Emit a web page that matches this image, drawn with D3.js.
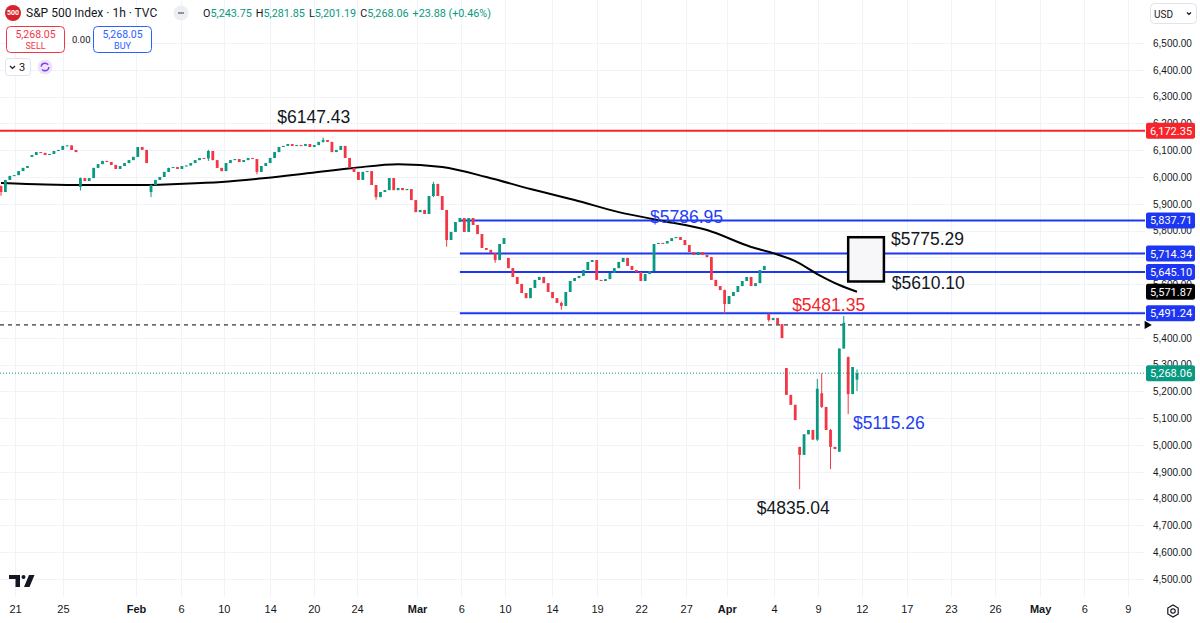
<!DOCTYPE html>
<html>
<head>
<meta charset="utf-8">
<script src="https://cdn.jsdelivr.net/npm/d3@7"></script>
<style>
  html, body { margin: 0; padding: 0; background: #fff; }
  svg { display: block; font-family: Roboto, "Liberation Sans", sans-serif; }
  .axis text { fill: #131722; font-size: 11px; }
  .price_axis text { font-size: 10px; }
  .axis .domain, .axis line { display: none; }
</style>
</head>
<body>
<div id="chart_area"></div>
<script>
// hourly closes (one candle ~ two hourly bars)
var closes = [
  5944, 5989, 6004, 6007, 6022, 6034, 6041, 6082, 6093, 6090,
  6082, 6086, 6097, 6101, 6116, 6118, 6101, 6093, 5996, 5985,
  5996, 6034, 6048, 6060, 6056, 6045, 6030, 6041, 6052, 6063,
  6075, 6112, 6101, 6052, 5970, 5989, 6000, 6019, 6034, 6037,
  6030, 6041, 6043, 6052, 6063, 6071, 6069, 6097, 6063, 6034,
  6022, 6052, 6063, 6067, 6056, 6063, 6071, 6067, 6019, 6041,
  6052, 6071, 6093, 6112, 6116, 6123, 6116, 6119, 6116, 6123,
  6112, 6119, 6131, 6138, 6131, 6093, 6101, 6116, 6071, 6034,
  6019, 5989, 6019, 6022, 5970, 5925, 5944, 5951, 5996, 5951,
  5959, 5951, 5955, 5914, 5869, 5877, 5862, 5929, 5974, 5929,
  5877, 5765, 5795, 5832, 5847, 5795, 5847, 5821, 5787, 5735,
  5728, 5716, 5690, 5750, 5772, 5660, 5627, 5601, 5567, 5548,
  5586, 5616, 5627, 5604, 5571, 5548, 5530, 5519, 5571, 5612,
  5623, 5631, 5653, 5683, 5690, 5616, 5612, 5619, 5642, 5660,
  5683, 5698, 5668, 5653, 5645, 5612, 5638, 5649, 5750, 5754,
  5752, 5761, 5772, 5776, 5765, 5746, 5720, 5709, 5720, 5709,
  5701, 5616, 5593, 5578, 5526, 5556, 5571, 5593, 5612, 5627,
  5593, 5604, 5653, 5668, 5466, 5474, 5451, 5399, 5187, 5150,
  5093, 4963, 5040, 5056, 5020, 5210, 5142, 5056, 4993, 4985,
  5360, 5456, 5190, 5291, 5268.06
];

// session opens where the bar does not open at the previous close: [index, open]
var gapOpens = [
  [0, 5966], [7, 6075], [18, 5963], [34, 5944], [115, 5698], [174, 5489],
  [178, 5287], [181, 4993], [186, 5193], [190, 4975], [192, 5328], [194, 5243.75]
];

// visible wicks: [index, high, low]
var wicks = [
  [0, 5968, 5930], [18, 5998, 5950], [34, 5972, 5925], [47, 6101, 6060],
  [58, 6067, 6010], [73, 6147.43, 6128], [85, 5951, 5915], [98, 5982, 5925],
  [101, 5877, 5740], [112, 5716, 5680], [127, 5535, 5504.65], [164, 5580, 5488.73],
  [174, 5491, 5460], [181, 4993, 4835.04], [185, 5246.57, 5015], [186, 5267.47, 5138],
  [188, 5060, 4910.42], [191, 5481.34, 5440], [192, 5330, 5115.26], [194, 5281.85, 5201.19]
];

// moving average read at these bars
var maIdx = [0, 10, 20, 30, 40, 50, 60, 70, 80, 90, 100, 110, 120, 130, 140, 150, 160, 170, 175, 180, 185, 190, 194];
var maVals = [5978, 5972, 5970, 5970, 5974, 5981, 5996, 6015, 6034, 6048, 6037, 6000, 5955, 5914, 5869, 5836, 5802, 5739, 5716, 5686, 5638, 5597, 5571.87];

// horizontal levels
var redLevel = 6172.35;
var blueLevels = [5837.71, 5714.34, 5645.10, 5491.24];
var blueStart = 104;
var dashedLevel = 5448;
var lastClose = 5268.06;
var maLast = 5571.87;

// time axis
var tickLabels = ["21", "25", "Feb", "6", "10", "14", "20", "24", "Mar", "6", "10", "14", "19", "22", "27", "Apr", "4", "9", "12", "17", "23", "26", "May", "6", "9"];
var tickIdx = [3.2, 14.05, 30.6, 40.8, 50.5, 61, 70.9, 80.7, 94.3, 104.3, 114.2, 124.9, 135.1, 145.1, 155.3, 164.5, 175.2, 185.2, 195.1, 205.3, 215.3, 225.3, 235.5, 245.5, 255.4];
var monthLabels = ["Feb", "Mar", "Apr", "May"];

// drawn notes: text, bar index, price
var noteText = ["$6147.43", "$5786.95", "$5775.29", "$5610.10", "$5481.35", "$5115.26", "$4835.04"];
var noteIdx = [62.6, 147.1, 201.7, 201.9, 179.3, 193.1, 171.3];
var notePrice = [6224, 5851, 5769, 5604, 5522, 5082, 4765];
var noteKind = ["black", "blue", "black", "black", "red", "blue", "black"];

// box drawing: bar range and price range
var boxIdx = [192, 200.1];
var boxPrice = [5775.29, 5610.10];

var frame_width = 1200, frame_height = 623;
var plot_right = 1145, plot_bottom = 597;

var colours = {
  up: "#089981", down: "#f23645", black: "#131722", blue: "#1d36f2",
  red: "#f7252b", grid: "#f0f3fa", teal: "#089981"
};

var svg = d3.select("#chart_area").append("svg")
  .attr("width", frame_width).attr("height", frame_height);

var xScale = d3.scaleLinear().domain([0, 194]).range([1, 857]);
var yScale = d3.scaleLinear().domain([4500, 6500]).range([579, 43]);

// build candles
var gapMap = new Map(gapOpens.map(function(g) { return [g[0], g[1]]; }));
var wickMap = new Map(wicks.map(function(w) { return [w[0], w]; }));
var candles = closes.map(function(c, i) {
  var o = gapMap.has(i) ? gapMap.get(i) : closes[i - 1];
  var hi = Math.max(o, c), lo = Math.min(o, c);
  if (wickMap.has(i)) { hi = Math.max(hi, wickMap.get(i)[1]); lo = Math.min(lo, wickMap.get(i)[2]); }
  return {i: i, o: o, h: hi, l: lo, c: c};
});

svg.append("clipPath").attr("id", "plot_clip")
  .append("rect").attr("x", 0).attr("y", 0).attr("width", plot_right).attr("height", plot_bottom);

// grid
var grid = svg.append("g");
grid.selectAll(".vgrid").data(tickIdx).enter().append("line")
  .attr("x1", function(d) { return Math.round(xScale(d)) + 0.5; })
  .attr("x2", function(d) { return Math.round(xScale(d)) + 0.5; })
  .attr("y1", 0).attr("y2", plot_bottom)
  .attr("stroke", colours.grid);
grid.selectAll(".hgrid").data(yScale.ticks(20)).enter().append("line")
  .attr("x1", 0).attr("x2", plot_right)
  .attr("y1", function(d) { return Math.round(yScale(d)) + 0.5; })
  .attr("y2", function(d) { return Math.round(yScale(d)) + 0.5; })
  .attr("stroke", colours.grid);

var canvas = svg.append("g").attr("clip-path", "url(#plot_clip)");

// levels
canvas.append("line")
  .attr("x1", 0).attr("x2", plot_right)
  .attr("y1", yScale(redLevel)).attr("y2", yScale(redLevel))
  .attr("stroke", colours.red).attr("stroke-width", 2);

canvas.selectAll(".blue_level").data(blueLevels).enter().append("line")
  .attr("x1", xScale(blueStart)).attr("x2", plot_right)
  .attr("y1", function(d) { return yScale(d); })
  .attr("y2", function(d) { return yScale(d); })
  .attr("stroke", colours.blue).attr("stroke-width", 2);

canvas.append("line")
  .attr("x1", 0).attr("x2", plot_right - 2)
  .attr("y1", yScale(dashedLevel)).attr("y2", yScale(dashedLevel))
  .attr("stroke", "#000").attr("stroke-width", 1).attr("stroke-dasharray", "4,4");

canvas.append("line")
  .attr("x1", 0).attr("x2", plot_right)
  .attr("y1", yScale(lastClose)).attr("y2", yScale(lastClose))
  .attr("stroke", colours.teal).attr("stroke-width", 1).attr("stroke-dasharray", "1,2");

// moving average
var maLine = d3.line()
  .x(function(d, i) { return xScale(maIdx[i]); })
  .y(function(d) { return yScale(d); })
  .curve(d3.curveMonotoneX);
canvas.append("path").datum(maVals)
  .attr("d", maLine)
  .attr("fill", "none").attr("stroke", "#000").attr("stroke-width", 2);

// candles
var bodyW = 2.8;
var bars = canvas.append("g").selectAll("g").data(candles).enter().append("g");
bars.append("line")
  .attr("x1", function(d) { return xScale(d.i); })
  .attr("x2", function(d) { return xScale(d.i); })
  .attr("y1", function(d) { return yScale(d.h); })
  .attr("y2", function(d) { return yScale(d.l); })
  .attr("stroke", function(d) { return d.c >= d.o ? colours.up : colours.down; })
  .attr("stroke-width", 1);
bars.append("rect")
  .attr("x", function(d) { return xScale(d.i) - bodyW / 2; })
  .attr("width", bodyW)
  .attr("y", function(d) { return yScale(Math.max(d.o, d.c)); })
  .attr("height", function(d) { return Math.max(1, Math.abs(yScale(d.o) - yScale(d.c))); })
  .attr("fill", function(d) { return d.c >= d.o ? colours.up : colours.down; });

// box drawing
canvas.append("rect")
  .attr("x", xScale(boxIdx[0])).attr("y", yScale(boxPrice[0]))
  .attr("width", xScale(boxIdx[1]) - xScale(boxIdx[0]))
  .attr("height", yScale(boxPrice[1]) - yScale(boxPrice[0]))
  .attr("fill", "#f7f7fa").attr("stroke", "#000").attr("stroke-width", 2.5);

// text notes
var noteColour = {black: "#131722", blue: "#2440f2", red: "#f0262e"};
canvas.selectAll(".note").data(noteText).enter().append("text")
  .attr("x", function(d, i) { return xScale(noteIdx[i]); })
  .attr("y", function(d, i) { return yScale(notePrice[i]); })
  .attr("dy", "0.35em")
  .attr("fill", function(d, i) { return noteColour[noteKind[i]]; })
  .style("font-family", "'Liberation Sans', Arial, sans-serif")
  .style("font-size", "17.5px")
  .text(function(d) { return d; });

// arrow at end of dashed line
svg.append("path")
  .attr("d", d3.symbol().type(d3.symbolTriangle).size(30)())
  .attr("transform", "translate(" + (plot_right + 2) + "," + yScale(dashedLevel) + ") rotate(90)")
  .attr("fill", "#000");

// price tags, top to bottom
var tagVals = [redLevel, blueLevels[0], blueLevels[1], blueLevels[2], maLast, blueLevels[3], lastClose];
var tagFill = [colours.red, colours.blue, colours.blue, colours.blue, "#000", colours.blue, colours.teal];

// price axis (labels sitting right under a tag are hidden, as on the chart)
var priceTicks = yScale.ticks(20).filter(function(t) {
  return tagVals.every(function(v) { return Math.abs(yScale(v) - yScale(t)) > 5; });
});
var yAxis = d3.axisRight(yScale).tickValues(priceTicks).tickSize(0).tickPadding(0)
  .tickFormat(d3.format(",.2f"));
svg.append("g").attr("class", "axis price_axis")
  .attr("transform", "translate(1153,0)")
  .call(yAxis);

var tags = svg.append("g").selectAll("g").data(tagVals).enter().append("g")
  .attr("transform", function(d) { return "translate(1146," + yScale(d) + ")"; });
tags.append("rect")
  .attr("x", 0).attr("y", -8).attr("width", 49).attr("height", 16).attr("rx", 2)
  .attr("fill", function(d, i) { return tagFill[i]; });
tags.append("text")
  .attr("x", 25).attr("dy", "0.36em").attr("text-anchor", "middle")
  .attr("fill", "#fff").style("font-size", "11px")
  .text(function(d) { return d3.format(",.2f")(d); });

// time axis
var xAxis = d3.axisBottom(xScale).tickValues(tickIdx).tickSize(0).tickPadding(0)
  .tickFormat(function(d, i) { return tickLabels[i]; });
var xg = svg.append("g").attr("class", "axis")
  .attr("transform", "translate(0,605)")
  .call(xAxis);
xg.selectAll("text")
  .style("font-weight", function(d, i) { return monthLabels.indexOf(tickLabels[i]) >= 0 ? "600" : "400"; });

// settings icon
var gear = svg.append("g").attr("transform", "translate(1173,611)");
gear.append("path")
  .attr("d", d3.line()(d3.range(6).map(function(k) {
    var a = Math.PI / 3 * k + Math.PI / 6;
    return [6 * Math.cos(a), 6 * Math.sin(a)];
  })) + "Z")
  .attr("fill", "none").attr("stroke", "#131722").attr("stroke-width", 1.2);
gear.append("circle").attr("r", 2.2).attr("fill", "none").attr("stroke", "#131722").attr("stroke-width", 1.2);

// USD box
svg.append("rect").attr("x", 1150.5).attr("y", 3.5).attr("width", 46).attr("height", 20).attr("rx", 4)
  .attr("fill", "#fff").attr("stroke", "#e0e3eb");
svg.append("text").attr("x", 1154).attr("y", 14).attr("dy", "0.35em")
  .style("font-size", "10px").attr("fill", "#131722").text("USD");
svg.append("path").attr("d", "M1187,12.5 L1189,14.5 L1191,12.5")
  .attr("fill", "none").attr("stroke", "#131722").attr("stroke-width", 1.2);

// TradingView mark
var logo = svg.append("g").attr("fill", "#131722");
logo.append("path").attr("d", "M9,575 H20 V587 H15.5 V579 H9 Z");
logo.append("circle").attr("cx", 23.5).attr("cy", 577).attr("r", 2);
logo.append("path").attr("d", "M29,575 H34.5 L29.5,587 H24 Z");

// header
var header = svg.append("g");
header.append("circle").attr("cx", 13).attr("cy", 13).attr("r", 8).attr("fill", "#d8222b");
header.append("text").attr("x", 13).attr("y", 13).attr("dy", "0.35em").attr("text-anchor", "middle")
  .attr("fill", "#fff").style("font-size", "7px").style("font-weight", "700").text("500");
header.append("text").attr("x", 26).attr("y", 13).attr("dy", "0.35em")
  .attr("fill", "#131722").style("font-size", "12px").text("S&P 500 Index · 1h · TVC");
header.append("circle").attr("cx", 181).attr("cy", 13).attr("r", 7.5).attr("fill", "#eceef2");
header.append("line").attr("x1", 178).attr("x2", 184).attr("y1", 13).attr("y2", 13)
  .attr("stroke", "#787b86").attr("stroke-width", 1.6);

var ohlcKeys = ["O", "H", "L", "C"];
var ohlcVals = ["5,243.75", "5,281.85", "5,201.19", "5,268.06"];
var ohlc = header.append("text").attr("x", 203).attr("y", 13).attr("dy", "0.35em")
  .style("font-size", "10.8px");
ohlcKeys.forEach(function(k, i) {
  ohlc.append("tspan").attr("fill", "#131722").attr("dx", i ? 4 : 0).text(k);
  ohlc.append("tspan").attr("fill", colours.teal).text(ohlcVals[i]);
});
ohlc.append("tspan").attr("fill", colours.teal).attr("dx", 4).text("+23.88 (+0.46%)");

function tradeBox(x, colour, label) {
  header.append("rect").attr("x", x + 0.5).attr("y", 26.5).attr("width", 58).attr("height", 26).attr("rx", 4)
    .attr("fill", "#fff").attr("stroke", colour);
  header.append("text").attr("x", x + 29.5).attr("y", 34).attr("dy", "0.35em").attr("text-anchor", "middle")
    .attr("fill", colour).style("font-size", "10.5px").text("5,268.05");
  header.append("text").attr("x", x + 29.5).attr("y", 45.5).attr("dy", "0.35em").attr("text-anchor", "middle")
    .attr("fill", colour).style("font-size", "9px").text(label);
}
tradeBox(6, "#f23645", "SELL");
tradeBox(93, "#2962ff", "BUY");
header.append("text").attr("x", 72).attr("y", 40).attr("dy", "0.35em")
  .attr("fill", "#131722").style("font-size", "9.5px").text("0.00");

header.append("rect").attr("x", 5.5).attr("y", 58.5).attr("width", 25).attr("height", 17).attr("rx", 3)
  .attr("fill", "#fff").attr("stroke", "#e0e3eb");
header.append("path").attr("d", "M10,66 L12.5,68.5 L15,66")
  .attr("fill", "none").attr("stroke", "#131722").attr("stroke-width", 1.2);
header.append("text").attr("x", 19).attr("y", 67).attr("dy", "0.35em")
  .attr("fill", "#131722").style("font-size", "11px").text("3");
header.append("circle").attr("cx", 45).attr("cy", 67).attr("r", 7.5).attr("fill", "#ede3fb");
header.append("circle").attr("cx", 45).attr("cy", 67).attr("r", 3.8)
  .attr("fill", "none").attr("stroke", "#7e3ee8").attr("stroke-width", 1.5).attr("stroke-dasharray", "9,3");
</script>
</body>
</html>
